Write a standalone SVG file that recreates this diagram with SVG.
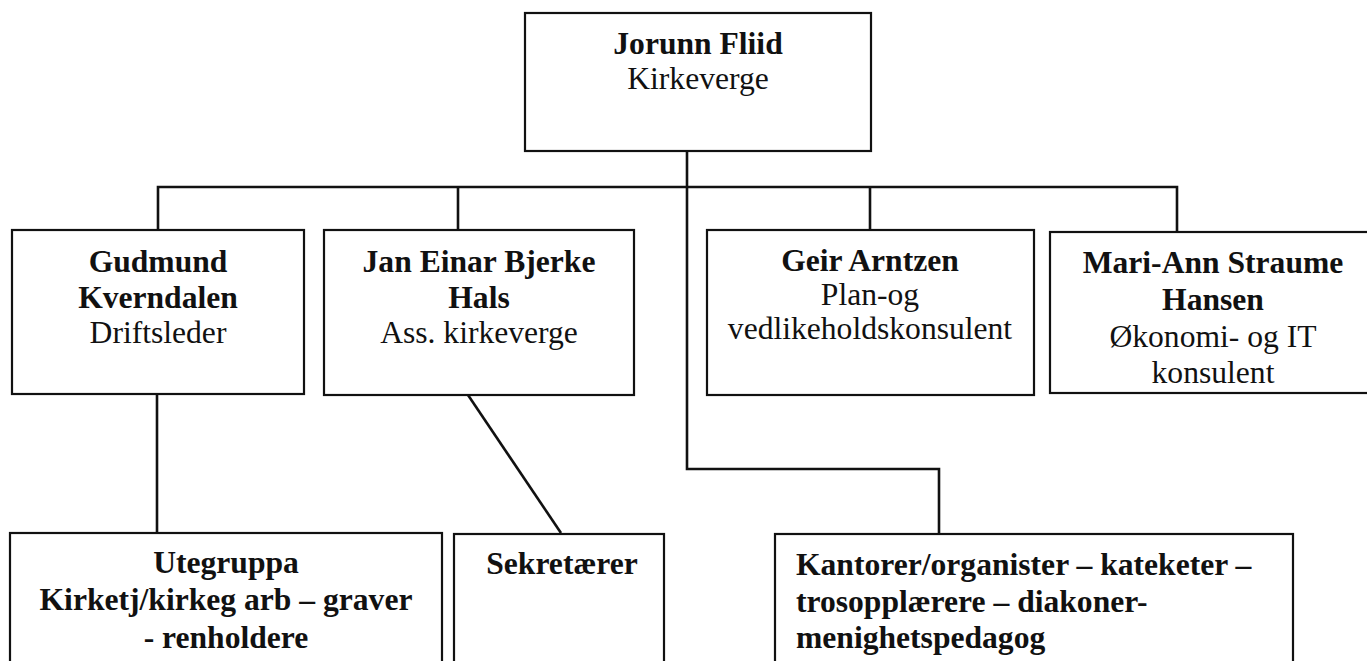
<svg xmlns="http://www.w3.org/2000/svg" width="1367" height="661" viewBox="0 0 1367 661">
<style>
.box{fill:#fff;stroke:#111;stroke-width:2.2}
.ln{fill:none;stroke:#111;stroke-width:2.6;stroke-linejoin:miter}
text{font-family:"Liberation Serif","Times New Roman",serif;font-size:31.6px;fill:#111}
.b{font-weight:bold}
.c{text-anchor:middle}
</style>
<rect width="1367" height="661" fill="#fff"/>
<g id="connectors">
<path class="ln" d="M687 151 V469 H939 V534"/>
<path class="ln" d="M158 230 V187 H1177 V232"/>
<path class="ln" d="M458 187 V230"/>
<path class="ln" d="M870 187 V230"/>
<path class="ln" d="M157 394 V533"/>
<path class="ln" d="M468 395 L561 533"/>
</g>
<g id="n-jorunn">
<rect class="box" x="525" y="13" width="346" height="138"/>
<text class="b c" x="698" y="54">Jorunn Fliid</text>
<text class="c" x="698" y="89">Kirkeverge</text>
</g>
<g id="n-gudmund">
<rect class="box" x="12" y="230" width="292" height="164"/>
<text class="b c" x="158" y="272">Gudmund</text>
<text class="b c" x="158" y="308">Kverndalen</text>
<text class="c" x="158" y="343">Driftsleder</text>
</g>
<g id="n-jan">
<rect class="box" x="324" y="230" width="310" height="165"/>
<text class="b c" x="479" y="272">Jan Einar Bjerke</text>
<text class="b c" x="479" y="308">Hals</text>
<text class="c" x="479" y="343">Ass. kirkeverge</text>
</g>
<g id="n-geir">
<rect class="box" x="707" y="230" width="327" height="165"/>
<text class="b c" x="870" y="271">Geir Arntzen</text>
<text class="c" x="870" y="305">Plan-og</text>
<text class="c" x="870" y="339">vedlikeholdskonsulent</text>
</g>
<g id="n-mari">
<rect class="box" x="1050" y="232" width="330" height="161"/>
<text class="b c" x="1213" y="273">Mari-Ann Straume</text>
<text class="b c" x="1213" y="310">Hansen</text>
<text class="c" x="1213" y="347">Økonomi- og IT</text>
<text class="c" x="1213" y="383">konsulent</text>
</g>
<g id="n-utegruppa">
<rect class="box" x="10" y="533" width="432" height="140"/>
<text class="b c" x="226" y="573">Utegruppa</text>
<text class="b c" x="226" y="610">Kirketj/kirkeg arb – graver</text>
<text class="b c" x="226" y="648">- renholdere</text>
</g>
<g id="n-sekretaerer">
<rect class="box" x="454" y="534" width="210" height="140"/>
<text class="b c" x="562" y="574">Sekretærer</text>
</g>
<g id="n-kantorer">
<rect class="box" x="775" y="534" width="518" height="140"/>
<text class="b" x="796" y="575">Kantorer/organister – kateketer –</text>
<text class="b" x="796" y="612">trosopplærere – diakoner-</text>
<text class="b" x="796" y="648">menighetspedagog</text>
</g>
</svg>
